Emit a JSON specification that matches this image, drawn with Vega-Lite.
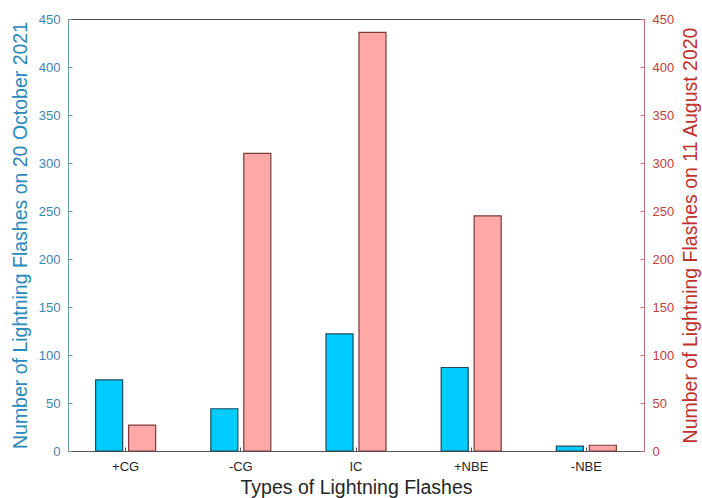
{
  "$schema": "https://vega.github.io/schema/vega-lite/v6.json",
  "width": 576,
  "height": 432,
  "autosize": {"type": "none"},
  "padding": {"left": 68, "top": 19, "right": 58, "bottom": 47},
  "background": "white",
  "config": {
    "font": "Liberation Sans",
    "view": {"stroke": "#4d4d4d", "strokeWidth": 1},
    "axis": {"grid": false, "labelFont": "Liberation Sans", "titleFont": "Liberation Sans", "titleFontWeight": "normal", "labelFontSize": 13, "titleFontSize": 19.5}
  },
  "data": {
    "values": [
      {"type": "+CG", "series": "A", "value": 74},
      {"type": "-CG", "series": "A", "value": 44},
      {"type": "IC", "series": "A", "value": 122},
      {"type": "+NBE", "series": "A", "value": 87},
      {"type": "-NBE", "series": "A", "value": 5},
      {"type": "+CG", "series": "B", "value": 27},
      {"type": "-CG", "series": "B", "value": 310},
      {"type": "IC", "series": "B", "value": 436},
      {"type": "+NBE", "series": "B", "value": 245},
      {"type": "-NBE", "series": "B", "value": 6}
    ]
  },
  "encoding": {
    "x": {
      "field": "type", "type": "nominal", "sort": ["+CG", "-CG", "IC", "+NBE", "-NBE"],
      "scale": {"paddingInner": 0.479, "paddingOuter": 0.24},
      "axis": {"title": "Types of Lightning Flashes", "labelAngle": 0, "labelColor": "#262626", "titleColor": "#262626", "domainColor": "#555555", "tickColor": "#555555", "tickSize": -4, "labelPadding": 13, "titleY": 27}
    },
    "xOffset": {"field": "series", "type": "nominal", "scale": {"domain": ["A", "B"], "paddingInner": 0.18, "paddingOuter": 0}}
  },
  "layer": [
    {
      "transform": [{"filter": "datum.series === 'A'"}],
      "mark": {"type": "bar", "color": "#00CCFF", "stroke": "#1f4a5c", "strokeWidth": 1.2},
      "encoding": {
        "y": {
          "field": "value", "type": "quantitative", "scale": {"domain": [0, 450], "nice": false},
          "axis": {"orient": "left", "title": "Number of Lightning Flashes on 20 October 2021", "values": [0,50,100,150,200,250,300,350,400,450], "titleColor": "#2a88bb", "labelColor": "#3b85b0", "domainColor": "#6f95ad", "tickColor": "#6f95ad", "tickSize": -4, "labelPadding": 12, "titleAngle": -90, "titleX": -48, "titleY": 216, "titleAlign": "center", "titleBaseline": "middle"}
        }
      }
    },
    {
      "transform": [{"filter": "datum.series === 'B'"}],
      "mark": {"type": "bar", "color": "#FFA8A8", "stroke": "#7a3a3a", "strokeWidth": 1.2},
      "encoding": {
        "y": {
          "field": "value", "type": "quantitative", "scale": {"domain": [0, 450], "nice": false},
          "axis": {"orient": "right", "title": "Number of Lightning Flashes on 11 August 2020", "values": [0,50,100,150,200,250,300,350,400,450], "titleColor": "#c0302c", "labelColor": "#c0403c", "domainColor": "#c07070", "tickColor": "#c07070", "tickSize": -4, "labelPadding": 12, "titleAngle": -90, "titleX": 46, "titleY": 216, "titleAlign": "center", "titleBaseline": "middle"}
        }
      }
    }
  ],
  "resolve": {"scale": {"y": "independent"}}
}
